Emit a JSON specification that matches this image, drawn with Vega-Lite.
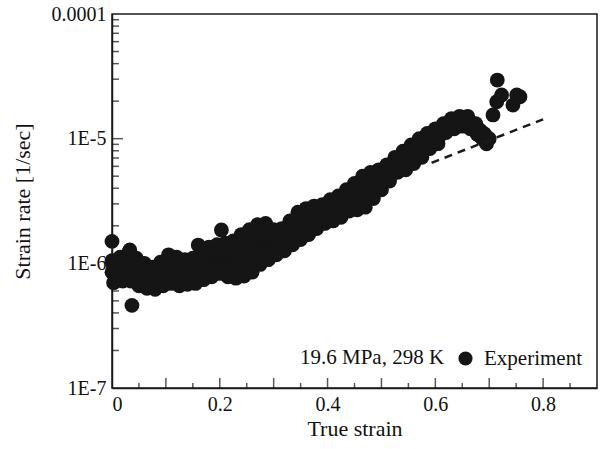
{
 "$schema": "https://vega.github.io/schema/vega-lite/v6.json",
 "width": 485, "height": 374,
 "autosize": {"type": "none"},
 "padding": {"left": 112, "top": 14, "right": 7, "bottom": 61},
 "background": "white",
 "config": {
   "view": {"stroke": "#1a1a1a", "strokeWidth": 1.5},
   "font": "Liberation Serif",
   "axis": {"labelFont": "Liberation Serif", "titleFont": "Liberation Serif", "labelFontSize": 20, "titleFontSize": 22, "titleFontWeight": "normal", "labelColor": "#111", "titleColor": "#111", "domainColor": "#1a1a1a", "grid": false, "domainWidth": 1.5},
   "legend": {"labelFont": "Liberation Serif", "titleFont": "Liberation Serif"}
 },
 "datasets": {
  "exp": [
   {"strain":0.000,"rate":1.05e-6},{"strain":0.005,"rate":7.1e-7},{"strain":0.010,"rate":8.7e-7},{"strain":0.015,"rate":1.12e-6},{"strain":0.020,"rate":7.2e-7},{"strain":0.025,"rate":9.1e-7},{"strain":0.030,"rate":1.2e-6},
   {"strain":0.035,"rate":7.2e-7},{"strain":0.040,"rate":8.9e-7},{"strain":0.045,"rate":1.1e-6},{"strain":0.050,"rate":6.6e-7},{"strain":0.055,"rate":8.1e-7},{"strain":0.060,"rate":1.0e-6},
   {"strain":0.065,"rate":6.3e-7},{"strain":0.070,"rate":7.8e-7},{"strain":0.075,"rate":9.3e-7},{"strain":0.080,"rate":6.2e-7},{"strain":0.085,"rate":7.9e-7},{"strain":0.090,"rate":1.02e-6},
   {"strain":0.095,"rate":6.6e-7},{"strain":0.100,"rate":8.9e-7},{"strain":0.105,"rate":1.17e-6},{"strain":0.110,"rate":6.9e-7},{"strain":0.115,"rate":8.7e-7},{"strain":0.120,"rate":1.12e-6},
   {"strain":0.125,"rate":6.6e-7},{"strain":0.130,"rate":8.5e-7},{"strain":0.135,"rate":1.07e-6},{"strain":0.140,"rate":6.8e-7},{"strain":0.145,"rate":8.5e-7},{"strain":0.150,"rate":1.1e-6},
   {"strain":0.155,"rate":6.9e-7},{"strain":0.160,"rate":9.3e-7},{"strain":0.165,"rate":1.32e-6},{"strain":0.170,"rate":7.4e-7},{"strain":0.175,"rate":1.0e-6},{"strain":0.180,"rate":1.35e-6},
   {"strain":0.185,"rate":7.8e-7},{"strain":0.190,"rate":1.07e-6},{"strain":0.195,"rate":1.41e-6},{"strain":0.200,"rate":8.3e-7},{"strain":0.205,"rate":1.1e-6},{"strain":0.210,"rate":1.45e-6},
   {"strain":0.215,"rate":7.8e-7},{"strain":0.220,"rate":1.07e-6},{"strain":0.225,"rate":1.51e-6},{"strain":0.230,"rate":7.6e-7},{"strain":0.235,"rate":1.15e-6},{"strain":0.240,"rate":1.7e-6},
   {"strain":0.245,"rate":7.9e-7},{"strain":0.250,"rate":1.2e-6},{"strain":0.255,"rate":1.86e-6},{"strain":0.260,"rate":8.5e-7},{"strain":0.265,"rate":1.32e-6},{"strain":0.270,"rate":2.04e-6},
   {"strain":0.275,"rate":9.8e-7},{"strain":0.280,"rate":1.48e-6},{"strain":0.285,"rate":2.09e-6},{"strain":0.290,"rate":1.07e-6},{"strain":0.295,"rate":1.48e-6},{"strain":0.300,"rate":1.86e-6},
   {"strain":0.305,"rate":1.17e-6},{"strain":0.310,"rate":1.48e-6},{"strain":0.315,"rate":1.9e-6},{"strain":0.320,"rate":1.26e-6},{"strain":0.325,"rate":1.7e-6},{"strain":0.330,"rate":2.19e-6},
   {"strain":0.335,"rate":1.41e-6},{"strain":0.340,"rate":1.95e-6},{"strain":0.345,"rate":2.57e-6},{"strain":0.350,"rate":1.55e-6},{"strain":0.355,"rate":2.09e-6},{"strain":0.360,"rate":2.75e-6},
   {"strain":0.365,"rate":1.7e-6},{"strain":0.370,"rate":2.24e-6},{"strain":0.375,"rate":2.88e-6},{"strain":0.380,"rate":1.9e-6},{"strain":0.385,"rate":2.4e-6},{"strain":0.390,"rate":2.95e-6},
   {"strain":0.395,"rate":2.09e-6},{"strain":0.400,"rate":2.57e-6},{"strain":0.405,"rate":3.24e-6},{"strain":0.410,"rate":2.19e-6},{"strain":0.415,"rate":2.75e-6},{"strain":0.420,"rate":3.47e-6},
   {"strain":0.425,"rate":2.34e-6},{"strain":0.430,"rate":2.95e-6},{"strain":0.435,"rate":3.89e-6},{"strain":0.440,"rate":2.63e-6},{"strain":0.445,"rate":3.24e-6},{"strain":0.450,"rate":4.37e-6},
   {"strain":0.455,"rate":2.69e-6},{"strain":0.460,"rate":3.63e-6},{"strain":0.465,"rate":5.0e-6},{"strain":0.470,"rate":2.82e-6},{"strain":0.475,"rate":4.07e-6},{"strain":0.480,"rate":5.37e-6},
   {"strain":0.485,"rate":3.31e-6},{"strain":0.490,"rate":4.37e-6},{"strain":0.495,"rate":5.62e-6},{"strain":0.500,"rate":3.89e-6},{"strain":0.505,"rate":4.79e-6},{"strain":0.510,"rate":6.17e-6},
   {"strain":0.515,"rate":4.57e-6},{"strain":0.520,"rate":5.62e-6},{"strain":0.525,"rate":7.08e-6},{"strain":0.530,"rate":5.37e-6},{"strain":0.535,"rate":6.46e-6},{"strain":0.540,"rate":7.94e-6},
   {"strain":0.545,"rate":5.62e-6},{"strain":0.550,"rate":7.08e-6},{"strain":0.555,"rate":8.91e-6},{"strain":0.560,"rate":6.31e-6},{"strain":0.565,"rate":7.94e-6},{"strain":0.570,"rate":1.0e-5},
   {"strain":0.575,"rate":7.08e-6},{"strain":0.580,"rate":8.71e-6},{"strain":0.585,"rate":1.1e-5},{"strain":0.590,"rate":8.32e-6},{"strain":0.595,"rate":1.0e-5},{"strain":0.600,"rate":1.2e-5},
   {"strain":0.605,"rate":9.12e-6},{"strain":0.610,"rate":1.12e-5},{"strain":0.615,"rate":1.32e-5},{"strain":0.620,"rate":1.12e-5},{"strain":0.625,"rate":1.29e-5},{"strain":0.630,"rate":1.45e-5},
   {"strain":0.635,"rate":1.2e-5},{"strain":0.640,"rate":1.38e-5},{"strain":0.645,"rate":1.51e-5},{"strain":0.650,"rate":1.26e-5},{"strain":0.655,"rate":1.41e-5},{"strain":0.660,"rate":1.51e-5},
   {"strain":0.665,"rate":1.2e-5},{"strain":0.670,"rate":1.29e-5},{"strain":0.675,"rate":1.32e-5},{"strain":0.680,"rate":1.07e-5},{"strain":0.685,"rate":1.12e-5},{"strain":0.690,"rate":1.1e-5},
   {"strain":0.695,"rate":9.1e-6},
   {"strain":0.0025,"rate":9.6e-7},{"strain":0.0075,"rate":7.9e-7},{"strain":0.0125,"rate":1.0e-6},{"strain":0.0175,"rate":8.1e-7},{"strain":0.0225,"rate":1.04e-6},{"strain":0.0275,"rate":8.3e-7},
   {"strain":0.0325,"rate":1.05e-6},{"strain":0.0375,"rate":8.0e-7},{"strain":0.0425,"rate":9.9e-7},{"strain":0.0475,"rate":7.6e-7},{"strain":0.0525,"rate":9.3e-7},{"strain":0.0575,"rate":7.2e-7},
   {"strain":0.0625,"rate":8.8e-7},{"strain":0.0675,"rate":7.0e-7},{"strain":0.0725,"rate":8.5e-7},{"strain":0.0775,"rate":6.8e-7},{"strain":0.0825,"rate":8.5e-7},{"strain":0.0875,"rate":7.2e-7},
   {"strain":0.0925,"rate":9.4e-7},{"strain":0.0975,"rate":7.7e-7},{"strain":0.1025,"rate":1.0e-6},{"strain":0.1075,"rate":7.8e-7},{"strain":0.1125,"rate":9.8e-7},{"strain":0.1175,"rate":7.6e-7},
   {"strain":0.1225,"rate":9.6e-7},{"strain":0.1275,"rate":7.5e-7},{"strain":0.1325,"rate":9.5e-7},{"strain":0.1375,"rate":7.5e-7},{"strain":0.1425,"rate":9.5e-7},{"strain":0.1475,"rate":7.6e-7},
   {"strain":0.1525,"rate":9.8e-7},{"strain":0.1575,"rate":8.0e-7},{"strain":0.1625,"rate":1.1e-6},{"strain":0.1675,"rate":8.5e-7},{"strain":0.1725,"rate":1.16e-6},{"strain":0.1775,"rate":8.8e-7},
   {"strain":0.1825,"rate":1.2e-6},{"strain":0.1875,"rate":9.1e-7},{"strain":0.1925,"rate":1.23e-6},{"strain":0.1975,"rate":9.5e-7},{"strain":0.2025,"rate":1.26e-6},{"strain":0.2075,"rate":9.3e-7},
   {"strain":0.2125,"rate":1.26e-6},{"strain":0.2175,"rate":9.1e-7},{"strain":0.2225,"rate":1.27e-6},{"strain":0.2275,"rate":9.2e-7},{"strain":0.2325,"rate":1.35e-6},{"strain":0.2375,"rate":9.3e-7},
   {"strain":0.2425,"rate":1.41e-6},{"strain":0.2475,"rate":9.7e-7},{"strain":0.2525,"rate":1.5e-6},{"strain":0.2575,"rate":1.03e-6},{"strain":0.2625,"rate":1.59e-6},{"strain":0.2675,"rate":1.1e-6},
   {"strain":0.2725,"rate":1.69e-6},{"strain":0.2775,"rate":1.19e-6},{"strain":0.2825,"rate":1.75e-6},{"strain":0.2875,"rate":1.24e-6},{"strain":0.2925,"rate":1.7e-6},{"strain":0.2975,"rate":1.28e-6},
   {"strain":0.3025,"rate":1.66e-6},{"strain":0.3075,"rate":1.32e-6},{"strain":0.3125,"rate":1.66e-6},{"strain":0.3175,"rate":1.4e-6},{"strain":0.3225,"rate":1.82e-6},{"strain":0.3275,"rate":1.51e-6},
   {"strain":0.3325,"rate":2.0e-6},{"strain":0.3375,"rate":1.62e-6},{"strain":0.3425,"rate":2.19e-6},{"strain":0.3475,"rate":1.75e-6},{"strain":0.3525,"rate":2.36e-6},{"strain":0.3575,"rate":1.86e-6},
   {"strain":0.3625,"rate":2.45e-6},{"strain":0.3675,"rate":1.96e-6},{"strain":0.3725,"rate":2.53e-6},{"strain":0.3775,"rate":2.08e-6},{"strain":0.3825,"rate":2.63e-6},{"strain":0.3875,"rate":2.2e-6},
   {"strain":0.3925,"rate":2.73e-6},{"strain":0.3975,"rate":2.31e-6},{"strain":0.4025,"rate":2.88e-6},{"strain":0.4075,"rate":2.42e-6},{"strain":0.4125,"rate":3.03e-6},{"strain":0.4175,"rate":2.53e-6},
   {"strain":0.4225,"rate":3.2e-6},{"strain":0.4275,"rate":2.65e-6},{"strain":0.4325,"rate":3.39e-6},{"strain":0.4375,"rate":2.78e-6},{"strain":0.4425,"rate":3.66e-6},{"strain":0.4475,"rate":2.92e-6},
   {"strain":0.4525,"rate":3.93e-6},{"strain":0.4575,"rate":3.08e-6},{"strain":0.4625,"rate":4.24e-6},{"strain":0.4675,"rate":3.25e-6},{"strain":0.4725,"rate":4.54e-6},{"strain":0.4775,"rate":3.5e-6},
   {"strain":0.4825,"rate":4.74e-6},{"strain":0.4875,"rate":3.83e-6},{"strain":0.4925,"rate":4.95e-6},{"strain":0.4975,"rate":4.17e-6},{"strain":0.5025,"rate":5.25e-6},{"strain":0.5075,"rate":4.61e-6},
   {"strain":0.5125,"rate":5.78e-6},{"strain":0.5175,"rate":5.12e-6},{"strain":0.5225,"rate":6.37e-6},{"strain":0.5275,"rate":5.68e-6},{"strain":0.5325,"rate":6.95e-6},{"strain":0.5375,"rate":6.08e-6},
   {"strain":0.5425,"rate":7.45e-6},{"strain":0.5475,"rate":6.46e-6},{"strain":0.5525,"rate":7.94e-6},{"strain":0.5575,"rate":6.82e-6},{"strain":0.5625,"rate":8.51e-6},{"strain":0.5675,"rate":7.24e-6},
   {"strain":0.5725,"rate":9.12e-6},{"strain":0.5775,"rate":7.94e-6},{"strain":0.5825,"rate":9.77e-6},{"strain":0.5875,"rate":8.65e-6},{"strain":0.5925,"rate":1.05e-5},{"strain":0.5975,"rate":9.5e-6},
   {"strain":0.6025,"rate":1.13e-5},{"strain":0.6075,"rate":1.04e-5},{"strain":0.6125,"rate":1.22e-5},{"strain":0.6175,"rate":1.14e-5},{"strain":0.6225,"rate":1.32e-5},{"strain":0.6275,"rate":1.24e-5},
   {"strain":0.6325,"rate":1.38e-5},{"strain":0.6375,"rate":1.28e-5},{"strain":0.6425,"rate":1.42e-5},{"strain":0.6475,"rate":1.32e-5},{"strain":0.6525,"rate":1.47e-5},{"strain":0.6575,"rate":1.34e-5},
   {"strain":0.6625,"rate":1.41e-5},{"strain":0.6675,"rate":1.22e-5},{"strain":0.6725,"rate":1.31e-5},{"strain":0.6775,"rate":1.09e-5},{"strain":0.6825,"rate":1.16e-5},{"strain":0.6875,"rate":1.0e-5},
   {"strain":0.6925,"rate":1.07e-5},
   {"strain":0.000,"rate":1.5e-6},{"strain":0.000,"rate":8.5e-7},{"strain":0.003,"rate":7.0e-7},{"strain":0.037,"rate":4.6e-7},{"strain":0.033,"rate":1.28e-6},{"strain":0.160,"rate":1.4e-6},{"strain":0.203,"rate":1.85e-6},
   {"strain":0.692,"rate":9.8e-6},{"strain":0.683,"rate":1.17e-5},{"strain":0.700,"rate":1.0e-5},{"strain":0.707,"rate":1.55e-5},{"strain":0.715,"rate":2.95e-5},
   {"strain":0.714,"rate":1.98e-5},{"strain":0.723,"rate":2.24e-5},{"strain":0.744,"rate":1.86e-5},{"strain":0.751,"rate":2.24e-5},{"strain":0.757,"rate":2.17e-5}
  ],
  "model": [{"strain":0.593,"rate":6.4e-6},{"strain":0.8,"rate":1.43e-5}],
  "xmajor": [{"v":0.1},{"v":0.2},{"v":0.3},{"v":0.4},{"v":0.5},{"v":0.6},{"v":0.7},{"v":0.8}],
  "xminor": [{"v":0.05},{"v":0.15},{"v":0.25},{"v":0.35},{"v":0.45},{"v":0.55},{"v":0.65},{"v":0.75},{"v":0.85}],
  "ymajor": [{"v":1e-6},{"v":1e-5}],
  "yminor": [{"v":2e-7},{"v":3e-7},{"v":4e-7},{"v":5e-7},{"v":6e-7},{"v":7e-7},{"v":8e-7},{"v":9e-7},
             {"v":2e-6},{"v":3e-6},{"v":4e-6},{"v":5e-6},{"v":6e-6},{"v":7e-6},{"v":8e-6},{"v":9e-6},
             {"v":2e-5},{"v":3e-5},{"v":4e-5},{"v":5e-5},{"v":6e-5},{"v":7e-5},{"v":8e-5},{"v":9e-5}]
 },
 "layer": [
  {
   "data": {"name": "xmajor"},
   "mark": {"type": "tick", "orient": "vertical", "size": 10, "thickness": 1.5, "yOffset": -5, "color": "#111"},
   "encoding": {
     "x": {"field":"v","type":"quantitative","scale":{"domain":[0,0.9],"nice":false,"zero":false},"axis":null},
     "y": {"datum":1e-7,"type":"quantitative","scale":{"type":"log","domain":[1e-7,1e-4],"nice":false},"axis":null}
   }
  },
  {
   "data": {"name": "xminor"},
   "mark": {"type": "tick", "orient": "vertical", "size": 5, "thickness": 1.5, "yOffset": -2.5, "color": "#111"},
   "encoding": {
     "x": {"field":"v","type":"quantitative","axis":null},
     "y": {"datum":1e-7,"type":"quantitative","axis":null}
   }
  },
  {
   "data": {"name": "ymajor"},
   "mark": {"type": "tick", "orient": "horizontal", "size": 11, "thickness": 1.5, "xOffset": 5.5, "color": "#111"},
   "encoding": {
     "y": {"field":"v","type":"quantitative","axis":null},
     "x": {"datum":0,"type":"quantitative","axis":null}
   }
  },
  {
   "data": {"name": "yminor"},
   "mark": {"type": "tick", "orient": "horizontal", "size": 7, "thickness": 1.5, "xOffset": 3.5, "color": "#111"},
   "encoding": {
     "y": {"field":"v","type":"quantitative","axis":null},
     "x": {"datum":0,"type":"quantitative","axis":null}
   }
  },
  {
   "data": {"name": "exp"},
   "mark": {"type": "circle", "size": 220, "opacity": 1},
   "encoding": {
     "x": {"field":"strain","type":"quantitative",
       "axis":{"orient":"bottom","title":"True strain","values":[0,0.2,0.4,0.6,0.8],"ticks":false,"labelPadding":6,"titlePadding":4,
         "labelExpr":"datum.value == 0 ? '0' : format(datum.value, '.1f')"}},
     "y": {"field":"rate","type":"quantitative",
       "axis":{"orient":"left","title":"Strain rate [1/sec]","values":[1e-7,1e-6,1e-5,1e-4],"ticks":false,"labelPadding":6,"titlePadding":17,
         "labelExpr":"datum.value >= 9e-5 ? '0.0001' : '1E-' + round(-log(datum.value)/LN10)"}},
     "color": {"datum":"Experiment","type":"nominal","scale":{"range":["#151515"]},
       "legend":{"orient":"none","legendX":188,"legendY":334,"title":"19.6 MPa, 298 K","titleOrient":"left","titleFontSize":21,"titleFontWeight":"normal","labelFontSize":21,"titleColor":"#111","labelColor":"#111","symbolSize":200,"symbolType":"circle","titlePadding":10,"labelOffset":8,"titleBaseline":"middle","titleAnchor":"middle"}}
   }
  },
  {
   "data": {"name": "model"},
   "mark": {"type":"line","strokeDash":[8,6],"strokeWidth":2.5,"color":"#1a1a1a"},
   "encoding": {
     "x": {"field":"strain","type":"quantitative","axis":null},
     "y": {"field":"rate","type":"quantitative","axis":null}
   }
  }
 ],
 "resolve": {"axis": {"x":"independent","y":"independent"}}
}
